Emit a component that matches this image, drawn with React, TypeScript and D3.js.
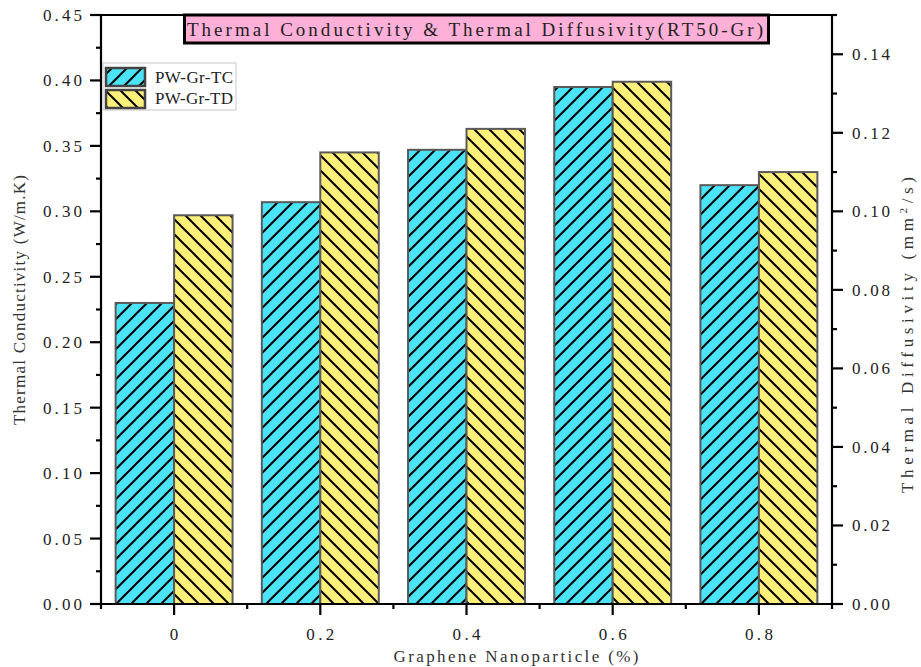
import React from "react";
import * as d3 from "d3";

const categories = ["0", "0.2", "0.4", "0.6", "0.8"];
const tcValues = [0.23, 0.307, 0.347, 0.395, 0.32];
const tdValues = [0.099, 0.115, 0.121, 0.133, 0.11];
const seriesNames = ["PW-Gr-TC", "PW-Gr-TD"];
const leftTicks = [0, 0.05, 0.1, 0.15, 0.2, 0.25, 0.3, 0.35, 0.4, 0.45];
const leftMinor = [0.025, 0.075, 0.125, 0.175, 0.225, 0.275, 0.325, 0.375, 0.425];
const rightTicks = [0, 0.02, 0.04, 0.06, 0.08, 0.1, 0.12, 0.14];
const rightMinor = [0.01, 0.03, 0.05, 0.07, 0.09, 0.11, 0.13, 0.15];
const titleText = "Thermal Conductivity & Thermal Diffusivity(RT50-Gr)";
const xTitle = "Graphene Nanoparticle (%)";
const yLeftTitle = "Thermal Conductivity (W/m.K)";

const W = 921, H = 667;
const L = 101, R = 832, T = 15, B = 604;
const FONT = "'Liberation Serif', 'DejaVu Serif', serif";
const CYAN = "#4ae3f7";
const YELLOW = "#fff07a";

export default function App() {
  const x = d3.scaleBand<string>().domain(categories).range([L, R]).paddingInner(0).paddingOuter(0);
  const yL = d3.scaleLinear().domain([0, 0.45]).range([B, T]);
  const yR = d3.scaleLinear().domain([0, 0.15]).range([B, T]);
  const step = x.bandwidth();
  const groupW = step * 0.8;
  const barW = groupW / 2;
  const off = (step - groupW) / 2;
  const fmt = d3.format(".2f");

  return (
    <svg width={W} height={H} style={{ position: "absolute", left: 0, top: 0 }} fontFamily={FONT}>
      <defs>
        <pattern id="hatchC" patternUnits="userSpaceOnUse" width={15} height={15}>
          <rect width={15} height={15} fill={CYAN} />
          <path d="M-3,3 L3,-3 M0,15 L15,0 M12,18 L18,12" stroke="#000" strokeWidth={2} />
        </pattern>
        <pattern id="hatchY" patternUnits="userSpaceOnUse" width={15} height={15}>
          <rect width={15} height={15} fill={YELLOW} />
          <path d="M-3,12 L3,18 M0,0 L15,15 M12,-3 L18,3" stroke="#000" strokeWidth={2} />
        </pattern>
      </defs>
      <rect width={W} height={H} fill="#fff" />

      {/* bars */}
      {categories.map((c, i) => {
        const x0 = (x(c) as number) + off;
        return (
          <g key={c}>
            <rect x={x0} y={yL(tcValues[i])} width={barW} height={B - yL(tcValues[i])}
              fill="url(#hatchC)" stroke="#5a5a5a" strokeWidth={2} />
            <rect x={x0 + barW} y={yR(tdValues[i])} width={barW} height={B - yR(tdValues[i])}
              fill="url(#hatchY)" stroke="#5a5a5a" strokeWidth={2} />
          </g>
        );
      })}

      {/* frame / axes */}
      <g stroke="#000" strokeWidth={2.2} fill="none">
        <line x1={L} y1={T} x2={L} y2={B} />
        <line x1={R} y1={T} x2={R} y2={B} />
        <line x1={L} y1={B} x2={R} y2={B} />
        <line x1={L} y1={T} x2={R} y2={T} />
        {leftTicks.map((v) => <line key={"lt" + v} x1={L - 11} x2={L} y1={yL(v)} y2={yL(v)} />)}
        {leftMinor.map((v) => <line key={"lm" + v} x1={L - 5} x2={L} y1={yL(v)} y2={yL(v)} />)}
        {rightTicks.map((v) => <line key={"rt" + v} x1={R} x2={R + 11} y1={yR(v)} y2={yR(v)} />)}
        {rightMinor.map((v) => <line key={"rm" + v} x1={R} x2={R + 5} y1={yR(v)} y2={yR(v)} />)}
        {categories.map((c) => {
          const cx = (x(c) as number) + step / 2;
          return <line key={"bt" + c} x1={cx} x2={cx} y1={B} y2={B + 11} />;
        })}
        {d3.range(categories.length + 1).map((k) => {
          const bx = L + k * step;
          return <line key={"bm" + k} x1={bx} x2={bx} y1={B} y2={B + 5} />;
        })}
      </g>

      {/* tick labels */}
      <g fontSize={17} fill="#222">
        {leftTicks.map((v) => (
          <text key={"ll" + v} x={82} y={yL(v)} dy="0.35em" textAnchor="end" textLength={39} lengthAdjust="spacing">{fmt(v)}</text>
        ))}
        {rightTicks.map((v) => (
          <text key={"rl" + v} x={852} y={yR(v)} dy="0.35em" textAnchor="start" textLength={38} lengthAdjust="spacing">{fmt(v)}</text>
        ))}
        {categories.map((c) => {
          const cx = (x(c) as number) + step / 2;
          return (
            <text key={"cl" + c} x={cx} y={640} textAnchor="middle"
              textLength={c.length > 1 ? 28 : undefined} lengthAdjust="spacing">{c}</text>
          );
        })}
      </g>

      {/* axis titles */}
      <g fontSize={17} fill="#333">
        <text x={516} y={662} textAnchor="middle" textLength={245} lengthAdjust="spacing">{xTitle}</text>
        <text transform={`translate(25,300) rotate(-90)`} textAnchor="middle" textLength={250} lengthAdjust="spacing">{yLeftTitle}</text>
        <text transform={`translate(913,335) rotate(-90)`} textAnchor="middle" textLength={316} lengthAdjust="spacing">
          <tspan>Thermal Diffusivity (mm</tspan>
          <tspan dy={-6} fontSize={11}>2</tspan>
          <tspan dy={6}>/s)</tspan>
        </text>
      </g>

      {/* title box */}
      <rect x={184.5} y={15} width={584} height={28} fill="#ffb0d8" stroke="#000" strokeWidth={3} />
      <text x={187} y={36} fontSize={19} fill="#222" textLength={576} lengthAdjust="spacing">{titleText}</text>

      {/* legend */}
      <rect x={103} y={63} width={133} height={47} fill="#fff" stroke="#c8c8c8" strokeWidth={1} />
      <rect x={106} y={68} width={39} height={18} fill="url(#hatchC)" stroke="#444" strokeWidth={2.5} />
      <rect x={106} y={90} width={39} height={18} fill="url(#hatchY)" stroke="#444" strokeWidth={2.5} />
      <text x={155} y={77} dy="0.35em" fontSize={17} fill="#222" textLength={78} lengthAdjust="spacing">{seriesNames[0]}</text>
      <text x={155} y={98} dy="0.35em" fontSize={17} fill="#222" textLength={78} lengthAdjust="spacing">{seriesNames[1]}</text>
    </svg>
  );
}
